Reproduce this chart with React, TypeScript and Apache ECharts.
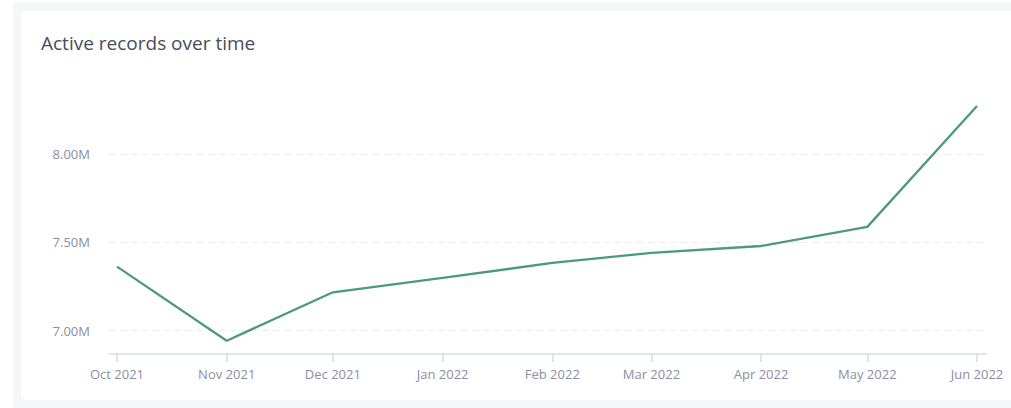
import React, { useEffect, useRef } from "react";
import * as echarts from "echarts";

const months = ["2021-10-01", "2021-11-01", "2021-12-01", "2022-01-01", "2022-02-01", "2022-03-01", "2022-04-01", "2022-05-01", "2022-06-01"];
const activeRecords = [7362000, 6943000, 7217000, 7298000, 7383000, 7440000, 7479000, 7587000, 8271000];
const yTicks = [7000000, 7500000, 8000000];
const monthNames = ["Jan", "Feb", "Mar", "Apr", "May", "Jun", "Jul", "Aug", "Sep", "Oct", "Nov", "Dec"];

const DAY = 86400000;
const toTs = (s: string) => {
  const [y, m, d] = s.split("-").map(Number);
  return Date.UTC(y, m - 1, d);
};

export default function App() {
  const ref = useRef<HTMLDivElement>(null);
  useEffect(() => {
    if (!ref.current) return;
    const chart = echarts.init(ref.current, undefined, { renderer: "svg" });
    const xs = months.map(toTs);
    const font = "'Open Sans', 'Noto Sans', sans-serif";
    chart.setOption({
      animation: false,
      graphic: [
        { type: "rect", z: -10, shape: { x: 13, y: 2, width: 1000, height: 410 }, style: { fill: "#f5f6f8" }, silent: true },
        { type: "rect", z: -9, shape: { x: 21, y: 11, width: 1000, height: 389, r: 4 }, style: { fill: "#ffffff" }, silent: true },
        {
          type: "text", left: 41, top: 33,
          style: { text: "Active records over time", font: `400 19px ${font}`, fill: "#464c5d" },
        },
      ],
      grid: { left: 109, right: 25, top: 92, bottom: 54 },
      xAxis: {
        type: "value",
        min: xs[0] - 2.26 * DAY,
        max: xs[xs.length - 1] + 2.54 * DAY,
        axisLine: { show: true, lineStyle: { color: "#d6ddef", width: 1.5 } },
        axisTick: { show: true, length: 8, customValues: xs, lineStyle: { color: "#d3dbee", width: 1.5 } },
        splitLine: { show: false },
        axisLabel: {
          customValues: xs,
          margin: 13,
          color: "#8a8fa2",
          fontSize: 13,
          fontFamily: font,
          formatter: (v: number) => {
            const d = new Date(v);
            return `${monthNames[d.getUTCMonth()]} ${d.getUTCFullYear()}`;
          },
        },
      },
      yAxis: {
        type: "value",
        min: 6868000,
        max: 8350000,
        axisLine: { show: false },
        axisTick: { show: false, customValues: yTicks },
        axisLabel: {
          customValues: yTicks,
          margin: 19,
          color: "#8a8fa2",
          fontSize: 13,
          fontFamily: font,
          formatter: (v: number) => (v / 1e6).toFixed(2) + "M",
        },
        splitLine: { show: true, lineStyle: { color: "#ececec", type: [6, 5], width: 1 } },
      },
      series: [
        {
          type: "line",
          data: xs.map((x, i) => [x, activeRecords[i]]),
          showSymbol: false,
          symbol: "none",
          lineStyle: { color: "#4c9a78", width: 2.3 },
          itemStyle: { color: "#4c9a78" },
        },
      ],
    });
    return () => chart.dispose();
  }, []);
  return (
    <div style={{ position: "absolute", left: 0, top: 0, width: 1011, height: 408, background: "#ffffff" }}>
      <div ref={ref} style={{ width: 1011, height: 408 }} />
    </div>
  );
}
